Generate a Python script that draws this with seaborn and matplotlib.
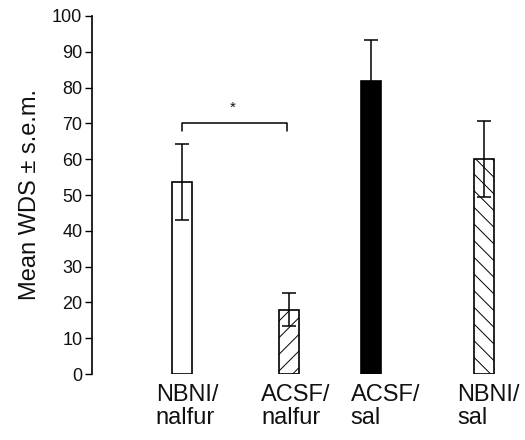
import numpy as np
import pandas as pd
import matplotlib
matplotlib.use('Agg')
import matplotlib.pyplot as plt
import seaborn as sns

# values
groups = ['NBNI/\nnalfur', 'ACSF/\nnalfur', 'ACSF/\nsal', 'NBNI/\nsal']
means = [53.7, 17.9, 81.9, 60.1]
sems = [10.6, 4.6, 11.4, 10.7]
yticks = [0, 10, 20, 30, 40, 50, 60, 70, 80, 90, 100]
ylabel = 'Mean WDS \u00b1 s.e.m.'

# layout (bars are not evenly spaced in the original)
bar_pos = [0.90, 1.97, 2.79, 3.915]
label_pos = [0.95, 2.04, 2.935, 3.965]
bar_w = 0.2
faces = ['white', 'white', 'black', 'white']
hatches = ['', '//', '', '\\\\']

sns.set_style('white')
plt.rcParams['font.family'] = ['Liberation Sans', 'DejaVu Sans']
plt.rcParams['hatch.linewidth'] = 0.7
plt.rcParams['text.color'] = '#111111'
plt.rcParams['xtick.color'] = '#111111'
plt.rcParams['ytick.color'] = '#111111'
plt.rcParams['axes.labelcolor'] = '#111111'

fig = plt.figure(figsize=(5.25, 4.4), dpi=100)
ax = fig.add_axes([92 / 525, 66 / 440, 433 / 525, 358 / 440])

df = pd.DataFrame({'pos': bar_pos, 'mean': means, 'sem': sems})
sns.barplot(data=df, x='pos', y='mean', native_scale=True, errorbar=None,
            width=bar_w / np.diff(sorted(bar_pos)).min(), ax=ax)
for p, fc, h in zip(ax.patches, faces, hatches):
    p.set_facecolor(fc)
    p.set_edgecolor('black')
    p.set_linewidth(1.2)
    p.set_hatch(h)

ax.errorbar(df['pos'], df['mean'], yerr=df['sem'], fmt='none', ecolor='black',
            elinewidth=1.1, capsize=5, capthick=1.1, zorder=5)

# significance bracket
x1, x2 = bar_pos[0], 1.95
ax.plot([x1, x1, x2, x2], [68, 70, 70, 68], color='black', lw=1.1)
ax.text((x1 + x2) / 2 - 0.02, 74.3, '*', ha='center', va='center', fontsize=11)

ax.set_xlim(0, 4.33)
ax.set_ylim(0, 100)
ax.set_yticks(yticks)
ax.set_xticks(label_pos)
ax.set_xticklabels(groups, multialignment='left', linespacing=1.1)
ax.tick_params(axis='x', length=0, pad=7, labelsize=17)
ax.tick_params(axis='y', length=5, width=1, direction='out', pad=2,
               labelsize=13, left=True, color='black')
ax.set_xlabel('')
ax.set_ylabel(ylabel, fontsize=17, labelpad=8)
sns.despine(ax=ax, bottom=True)
ax.spines['left'].set_color('black')
ax.spines['left'].set_linewidth(1.2)

fig.savefig('out.png', dpi=100)
